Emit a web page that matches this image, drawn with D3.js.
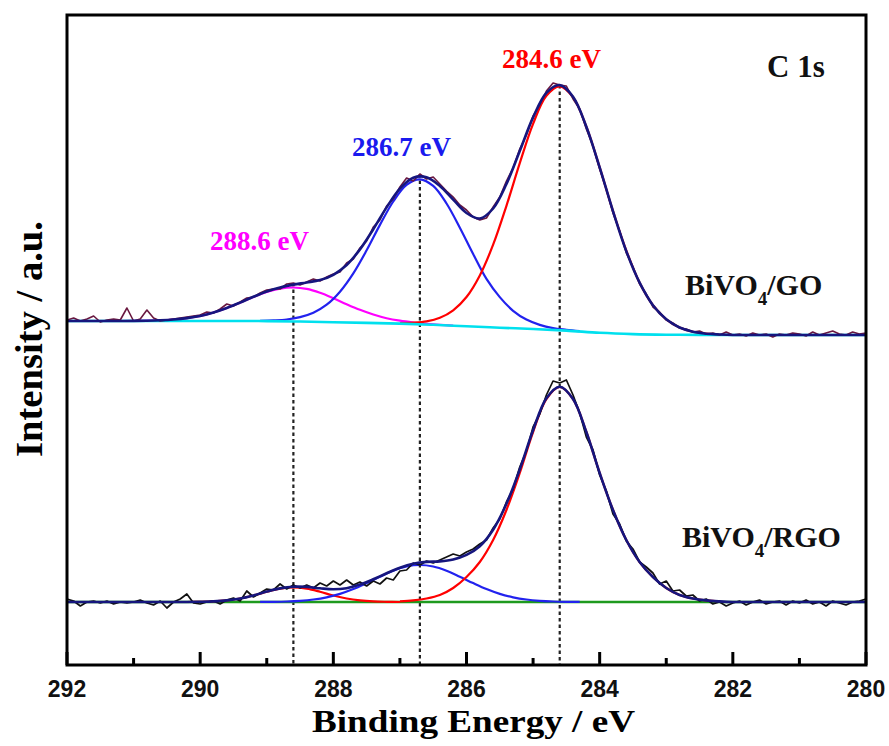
<!DOCTYPE html>
<html><head><meta charset="utf-8">
<script src="https://cdn.jsdelivr.net/npm/d3@7"></script>
<style>body{margin:0;background:#fff;} svg{display:block;}</style>
</head><body>
<svg id="chart" width="889" height="746"></svg>
<script>
// ---------- DATA ----------
const xTicks = [292, 290, 288, 286, 284, 282, 280];
const xMinorTicks = [291, 289, 287, 285, 283, 281];
const peakEnergies = [288.6, 286.7, 284.6];
const peakLabels = ["288.6 eV", "286.7 eV", "284.6 eV"];

// BiVO4/GO raw spectrum, 292.0 -> 280.0 eV, step 0.1
const goRaw = [345,347,344,346,349,343,345,346,345,357,344,
  346,355,347,344,345,346,347,348,349,350,
  353,352,356,361,359,363,367,368,372,375,
  376,376,381,382,380,383,386,384,388,391,
  393,402,406,417,424,438,445,459,466,478,
  487,484,491,486,488,481,474,468,460,455,
  448,445,447,458,468,484,497,516,530,549,
  560,574,582,580,579,566,556,536,519,496,
  476,452,434,412,398,381,371,358,353,345,
  342,337,336,333,334,331,332,330,333,330,
  331,329,332,330,331,328,331,330,332,331,
  329,333,330,332,334,331,330,333,331,332];
// BiVO4/GO envelope, 292.0 -> 280.0 eV, step 0.2
const goFit = [344,344,344,344,344,
  344.1,344.3,344.7,345.5,346.9,349.1,352.5,357.0,362.4,368.2,
  373.5,377.6,380.4,382.5,384.9,390.2,400.0,415.6,435.8,457.6,
  476.4,487.3,487.8,479.1,465.4,452.0,446.5,456.5,481.0,514.0,
  547.6,572.1,579.9,568.3,538.3,497.6,453.9,413.9,382.3,359.8,
  345.7,337.5,333.3,331.3,330.5,330,330,330,330,330,
  330,330,330,330,330,330];
// BiVO4/GO background, 292.0 -> 280.0 eV, step 0.5
const goBg = [344,344,344,344,344,344,343.9,343.5,342.8,342.1,341.4,340.2,338.7,
  337.3,336.0,334.4,332.2,330.9,330.3,330.1,330,330,330,330,330];
// BiVO4/GO components (step 0.2)
const goC1 = [341.9,342.3,343.6,347.2,354.7,368.0,389.6,420.3,459.2,501.9,541.2,569.2,578.7,
  567.8,538.3,497.6,453.9,414.4,382.3,359.8,345.7,337.5,333.3,331.4,330.5]; // 287.0 -> 282.2
const goC2 = [344.2,344.6,345.5,347.9,352.3,360.3,373.3,391.6,414.7,440.1,463.5,480.1,485.7,
  479.1,461.5,437.3,411.0,386.1,367.9,354.2,345.4,340.1,336.9,335.2,333.8]; // 289.1 -> 284.3
const goC3 = [344.1,344.3,344.7,345.5,346.9,349.1,352.5,357.0,362.3,368.0,373.0,376.4,377.5,
  376.1,372.2,366.8,360.8,355.2,350.5,346.8,344.3,342.5,341.1,340.2,339.4]; // 291.0 -> 286.2

// BiVO4/RGO raw spectrum, 292.0 -> 280.0 eV, step 0.1
const rgoRaw = [66,64,59,63,64,62,64,61,63,62,63,
  65,62,60,64,57,63,66,71,62,61,
  63,64,61,65,67,64,74,68,72,76,
  75,81,76,80,77,80,77,82,79,84,
  80,85,80,83,79,84,81,87,85,94,
  95,102,100,104,102,105,108,111,109,113,
  116,121,125,137,146,163,176,198,214,238,
  251,270,284,282,285,270,252,228,215,190,
  174,151,141,124,116,103,98,92,81,84,
  74,75,69,70,64,66,61,63,59,62,
  64,60,63,65,61,63,64,60,64,62,
  65,61,63,59,64,62,60,63,64,66];
// BiVO4/RGO envelope, 292.0 -> 280.0 eV, step 0.2
const rgoFit = [63,63,63,63,63,63,63,63,63,63,
  63.2,63.6,64.6,66.5,69.6,73.4,76.6,78.3,78.1,76.7,
  75.7,76.8,80.4,85.7,91.7,97.2,101.2,103.1,103.6,105.5,
  110.1,118.8,135.3,161.2,195.5,234.8,266.8,278.3,266,233,
  192,155,125,103,88,77,70,66.5,64.6,63.6,
  63,63,63,63,63,63,63,63,63,63,63];
const rgoBgE = [292, 280];
const rgoBg = [63, 63];
const rgoC1 = [63.6,64.6,66.5,70,77,88,103,125,155,192,233,266,278,
  266,233,192,155,125,103,88,77,70,66.5,64.6,63.6]; // 287.0 -> 282.2
const rgoC2 = [63.1,63.2,63.5,64.2,65.5,67.7,71.1,75.9,81.9,88.3,94.3,98.5,100,
  98.5,94.3,88.3,81.9,75.9,71.1,67.7,65.5,64.2,63.5,63.2,63.1]; // 289.1 -> 284.3
const rgoC3 = [63,63.2,63.6,64.6,66.5,69.5,73.2,76.3,77.5,76.3,73.2,69.5,66.5,
  64.6,63.6,63.2,63]; // 290.2 -> 287.0

// ---------- CHART ----------
const svg = d3.select("#chart");
const M = {left: 67, right: 866, top: 15, bottom: 665};
const x = d3.scaleLinear().domain([292, 280]).range([M.left, M.right]);
const y = d3.scaleLinear().domain([0, 650]).range([M.bottom, M.top]);

const grid = (vals, start, step) => vals.map((v, i) => [+(start - i * step).toFixed(2), v]);
const smooth = d3.line().x(d => x(d[0])).y(d => y(d[1])).curve(d3.curveCatmullRom);
const straight = d3.line().x(d => x(d[0])).y(d => y(d[1]));

svg.append("defs").append("clipPath").attr("id", "clip")
  .append("rect").attr("x", M.left).attr("y", M.top)
  .attr("width", M.right - M.left).attr("height", M.bottom - M.top);

const plot = svg.append("g").attr("clip-path", "url(#clip)");

// dashed guide lines from GO peak tops to the axis
const rawE = goRaw.map((v, i) => +(292 - i * 0.1).toFixed(1));
peakEnergies.forEach(e => {
  const idx = rawE.findIndex(v => Math.abs(v - e) < 0.01);
  plot.append("line")
    .attr("x1", x(e)).attr("x2", x(e))
    .attr("y1", y(goRaw[idx])).attr("y2", M.bottom)
    .attr("stroke", "#222").attr("stroke-width", 2.2)
    .attr("stroke-dasharray", "3.5,3");
});

function path(data, color, width, gen) {
  plot.append("path").datum(data)
    .attr("d", gen || smooth).attr("fill", "none")
    .attr("stroke", color).attr("stroke-width", width)
    .attr("stroke-linejoin", "round");
}

// GO
path(grid(goC3, 291.0, 0.2), "#ff00ff", 2.2);
path(grid(goC2, 289.1, 0.2), "#2222ee", 2.2);
path(grid(goC1, 287.0, 0.2), "#ff0000", 2.2);
path(grid(goBg, 292, 0.5), "#00e0ee", 2.6);
path(grid(goRaw, 292, 0.1), "#6a1840", 1.6, straight);
path(grid(goFit, 292, 0.2), "#16167e", 2.6);

// RGO
path(rgoBg.map((v, i) => [rgoBgE[i], v]), "#1e9a1e", 2.4, straight);
path(grid(rgoC3, 290.2, 0.2), "#ff0000", 2.2);
path(grid(rgoC2, 289.1, 0.2), "#2222ee", 2.2);
path(grid(rgoC1, 287.0, 0.2), "#ff0000", 2.2);
path(grid(rgoRaw, 292, 0.1), "#111111", 1.7, straight);
path(grid(rgoFit, 292, 0.2), "#16167e", 2.6);

// frame
svg.append("rect").attr("x", M.left).attr("y", M.top)
  .attr("width", M.right - M.left).attr("height", M.bottom - M.top)
  .attr("fill", "none").attr("stroke", "#000").attr("stroke-width", 3);

// bottom axis (ticks inward)
const ax = svg.append("g");
xTicks.forEach(t => {
  ax.append("line").attr("x1", x(t)).attr("x2", x(t))
    .attr("y1", M.bottom).attr("y2", M.bottom - 13)
    .attr("stroke", "#000").attr("stroke-width", 3);
  ax.append("text").attr("x", x(t)).attr("y", 697)
    .attr("text-anchor", "middle")
    .attr("font-family", "Liberation Sans, Arial, sans-serif")
    .attr("font-weight", "bold").attr("font-size", 23)
    .attr("fill", "#111").text(t);
});
xMinorTicks.forEach(t => {
  ax.append("line").attr("x1", x(t)).attr("x2", x(t))
    .attr("y1", M.bottom).attr("y2", M.bottom - 7)
    .attr("stroke", "#000").attr("stroke-width", 3);
});

const serif = "Liberation Serif, Times New Roman, serif";
// axis titles
svg.append("text").attr("x", 312).attr("y", 732)
  .attr("font-family", serif).attr("font-weight", "bold").attr("font-size", 31)
  .attr("textLength", 323).attr("lengthAdjust", "spacingAndGlyphs")
  .text("Binding Energy / eV");
svg.append("text")
  .attr("transform", "translate(42,457) rotate(-90)")
  .attr("font-family", serif).attr("font-weight", "bold").attr("font-size", 37)
  .attr("textLength", 236).attr("lengthAdjust", "spacingAndGlyphs")
  .text("Intensity / a.u.");

// annotations
function label(tx, ty, txt, color, size) {
  svg.append("text").attr("x", tx).attr("y", ty)
    .attr("font-family", serif).attr("font-weight", "bold")
    .attr("font-size", size).attr("fill", color).text(txt);
}
label(767, 77, "C 1s", "#111", 31);
const peakColors = ["#ff00ff", "#1a1aee", "#ff0000"];
const peakPos = [[210, 250], [352, 156], [502, 68]];
peakLabels.forEach((t, i) => label(peakPos[i][0], peakPos[i][1], t, peakColors[i], 27));

function sample(tx, ty, suffix) {
  const t = svg.append("text").attr("x", tx).attr("y", ty)
    .attr("font-family", serif).attr("font-weight", "bold")
    .attr("font-size", 30).attr("fill", "#111");
  t.append("tspan").text("BiVO");
  t.append("tspan").attr("font-size", 19).attr("dy", 10).text("4");
  t.append("tspan").attr("dy", -10).text(suffix);
}
sample(685, 295, "/GO");
sample(682, 547, "/RGO");
</script>
</body></html>
